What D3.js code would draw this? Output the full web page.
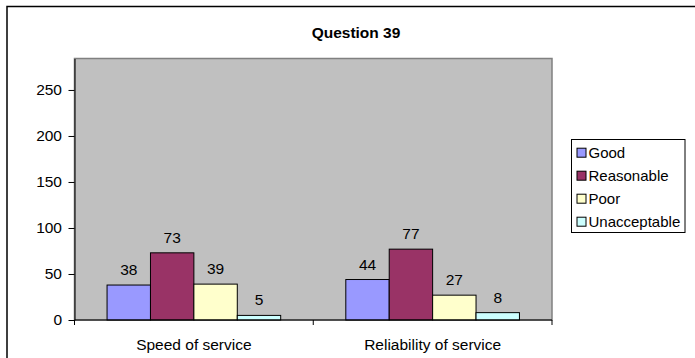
<!DOCTYPE html>
<html>
<head>
<meta charset="utf-8">
<script src="https://cdn.jsdelivr.net/npm/d3@7"></script>
<style>
  html, body { margin: 0; padding: 0; background: #fff; }
  svg { display: block; font-family: "Liberation Sans", Arial, sans-serif; }
</style>
</head>
<body>
<svg id="chart" width="695" height="358"></svg>
<script>
const title = "Question 39";
const categories = ["Speed of service", "Reliability of service"];
const seriesNames = ["Good", "Reasonable", "Poor", "Unacceptable"];
const good = [38, 44];
const reasonable = [73, 77];
const poor = [39, 27];
const unacceptable = [5, 8];
const yTicks = [0, 50, 100, 150, 200, 250];
const colors = ["#9999FF", "#993366", "#FFFFCC", "#CCFFFF"];

const seriesValues = [good, reasonable, poor, unacceptable];
const FS = 15.5;

const svg = d3.select("#chart");
const plot = { left: 74.5, top: 58.5, right: 552, bottom: 320 };

// outer chart border
svg.append("rect")
  .attr("x", 7).attr("y", 6.5).attr("width", 720).attr("height", 420)
  .attr("fill", "#fff").attr("stroke", "#000").attr("stroke-width", 1.5);

const x0 = d3.scaleBand().domain(categories).range([plot.left, plot.right]).paddingInner(0).paddingOuter(0);
const y = d3.scaleLinear().domain([0, 284.2]).range([plot.bottom, plot.top]);

// plot area
svg.append("rect")
  .attr("x", plot.left).attr("y", plot.top)
  .attr("width", plot.right - plot.left).attr("height", plot.bottom - plot.top)
  .attr("fill", "#C0C0C0").attr("stroke", "#808080").attr("stroke-width", 1.5);

// title
svg.append("text")
  .attr("x", 356).attr("y", 37.5)
  .attr("text-anchor", "middle")
  .attr("font-size", FS).attr("font-weight", "bold")
  .text(title);

// bars
const bw = x0.bandwidth();
const barW = bw / (seriesNames.length + 1.5);
const x1 = d3.scaleBand().domain(seriesNames)
  .range([(bw - barW * 4) / 2, (bw + barW * 4) / 2]).padding(0);

categories.forEach((cat, ci) => {
  const g = svg.append("g").attr("transform", `translate(${x0(cat)},0)`);
  seriesNames.forEach((s, si) => {
    const v = seriesValues[si][ci];
    g.append("rect")
      .attr("x", x1(s)).attr("y", y(v))
      .attr("width", x1.bandwidth()).attr("height", y(0) - y(v))
      .attr("fill", colors[si]).attr("stroke", "#000").attr("stroke-width", 1);
    g.append("text")
      .attr("x", x1(s) + x1.bandwidth() / 2).attr("y", y(v) - 10)
      .attr("text-anchor", "middle").attr("font-size", FS).attr("fill", "#000")
      .text(v);
  });
});

// y axis
const yAxis = d3.axisLeft(y).tickValues(yTicks).tickSize(6).tickPadding(6.5).tickSizeOuter(0);
const ya = svg.append("g").attr("transform", `translate(${plot.left},0)`).call(yAxis);
ya.select(".domain").attr("stroke", "#000").attr("stroke-width", 1);
ya.selectAll(".tick text").attr("font-size", FS).attr("font-family", "Liberation Sans, Arial, sans-serif").attr("fill", "#000");
ya.selectAll(".tick line").attr("stroke", "#000");

// x axis
const xa = svg.append("g").attr("transform", `translate(0,${plot.bottom})`);
xa.append("line").attr("x1", plot.left).attr("x2", plot.right).attr("y1", 0).attr("y2", 0)
  .attr("stroke", "#000").attr("stroke-width", 1.2);
const xTickPos = [plot.left].concat(categories.map(c => x0(c) + bw));
xa.selectAll("line.xt").data(xTickPos).enter().append("line")
  .attr("class", "xt").attr("x1", d => d).attr("x2", d => d).attr("y1", 0).attr("y2", 5)
  .attr("stroke", "#000");
xa.selectAll("text").data(categories).enter().append("text")
  .attr("x", d => x0(d) + bw / 2).attr("y", 29.5)
  .attr("text-anchor", "middle").attr("font-size", FS).attr("fill", "#000")
  .text(d => d);

// legend
const lg = svg.append("g");
lg.append("rect").attr("x", 571.5).attr("y", 139.5).attr("width", 113.5).attr("height", 93)
  .attr("fill", "#fff").attr("stroke", "#000").attr("stroke-width", 1);
seriesNames.forEach((s, i) => {
  const cy = 152.7 + i * 23;
  lg.append("rect").attr("x", 577).attr("y", cy - 4.5).attr("width", 9).attr("height", 9)
    .attr("fill", colors[i]).attr("stroke", "#000").attr("stroke-width", 1);
  lg.append("text").attr("x", 588.5).attr("y", cy + 5.5)
    .attr("font-size", 15).attr("fill", "#000").text(s);
});
</script>
</body>
</html>
